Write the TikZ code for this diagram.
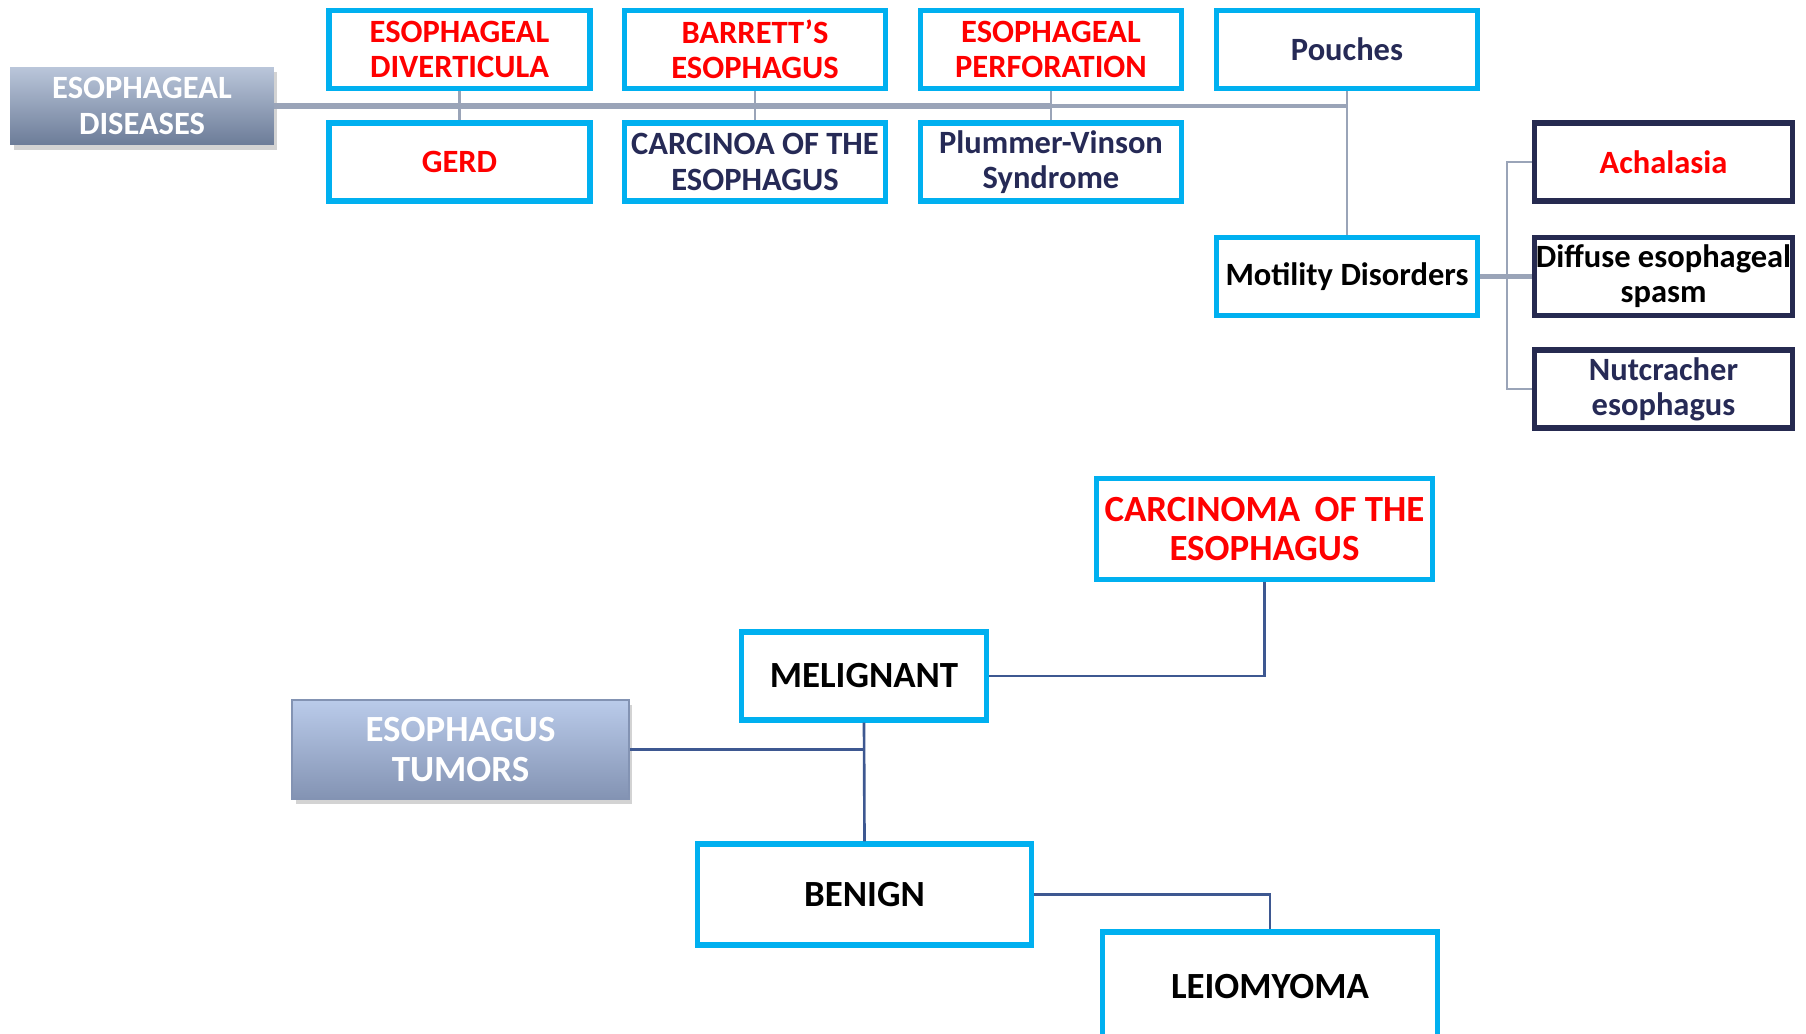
\documentclass[tikz,border=0pt]{standalone}
\usepackage{fontspec}
\setmainfont{Carlito}
\usetikzlibrary{shadows}

\definecolor{boxcyan}{HTML}{00B0F0}
\definecolor{navytext}{HTML}{262A56}
\definecolor{navyline}{HTML}{262A50}
\definecolor{graylink}{HTML}{9AA4B8}
\definecolor{bluelink}{HTML}{3E5891}
\definecolor{headtop}{HTML}{BAC6DA}
\definecolor{headbot}{HTML}{6C7C98}
\definecolor{tumtop}{HTML}{BACBEA}
\definecolor{tumbot}{HTML}{8393B3}

\begin{document}
\begin{tikzpicture}[x=0.02cm, y=-0.02cm,
    smallfont/.style={font=\fontsize{18.5}{20}\selectfont\bfseries},
    bigfont/.style={font=\fontsize{21}{22.5}\selectfont\bfseries},
    topbox/.style={draw=boxcyan, line width=2.9pt, fill=white, align=center, inner sep=0pt,
        minimum width=5.22cm, minimum height=1.56cm, smallfont},
    sidebox/.style={topbox, draw=navyline, minimum width=5.16cm, minimum height=1.56cm},
    tumbox/.style={draw=boxcyan, line width=2.9pt, fill=white, align=center, inner sep=0pt, bigfont},
    headbox/.style={align=center, inner sep=0pt, text=white, top color=headtop, bottom color=headbot,
        drop shadow={shadow xshift=2pt, shadow yshift=-3pt, opacity=0.35}},
    thicklink/.style={draw=graylink, line width=3.2pt},
    thinlink/.style={draw=graylink, line width=1.6pt},
    tumlink/.style={draw=bluelink, line width=1.5pt}
  ]
    %\draw[help lines, step=100] (0, 0) grid (1806, 1034);
    \useasboundingbox (0, 0) rectangle (1806, 1034);

    % esophageal diseases
    \node[headbox, smallfont, minimum width=5.28cm, minimum height=1.56cm] (dis) at (142, 106) {ESOPHAGEAL\\DISEASES};

    \node[topbox, text=red] (divert) at (459.5, 49.5) {ESOPHAGEAL\\DIVERTICULA};
    \node[topbox, text=red] (gerd) at (459.5, 162) {GERD};
    \node[topbox, text=red] (barrett) at (755, 49.5) {BARRETT'S\\ESOPHAGUS};
    \node[topbox, text=navytext] (carcinoa) at (755, 162) {CARCINOA OF THE\\ESOPHAGUS};
    \node[topbox, text=red] (perfor) at (1051, 49.5) {ESOPHAGEAL\\PERFORATION};
    \node[topbox, text=navytext] (plummer) at (1051, 162) {Plummer-Vinson\\Syndrome};
    \node[topbox, text=navytext] (pouch) at (1347, 49.5) {Pouches};
    \node[topbox, text=black] (motil) at (1347, 276.5) {Motility Disorders};

    \node[sidebox, text=red] (achal) at (1663.5, 162) {Achalasia};
    \node[sidebox, text=black] (spasm) at (1663.5, 276.5) {Diffuse esophageal\\spasm};
    \node[sidebox, text=navytext] (nutcr) at (1663.5, 389) {Nutcracher\\esophagus};

    \draw[thinlink] (divert.south) -- (gerd.north);
    \draw[thinlink] (barrett.south) -- (carcinoa.north);
    \draw[thinlink] (perfor.south) -- (plummer.north);
    \draw[thinlink] (pouch.south) -- (motil.north);
    \draw[thicklink] (dis.east) -- (dis.east -| perfor.south);
    \draw[draw=graylink, line width=2.2pt] (dis.east -| perfor.south) -- (dis.east -| pouch.south);
    \draw[draw=graylink, line width=2.6pt] (motil.east) -- (spasm.west);
    \draw[thinlink] (achal.west) -- ++(-25, 0) |- (nutcr.west);

    % esophagus tumors
    \node[headbox, bigfont, draw=tumbot, line width=1pt, top color=tumtop, bottom color=tumbot,
        minimum width=6.74cm, minimum height=1.98cm] (tumors) at (460.5, 749.5) {ESOPHAGUS\\TUMORS};
    \node[tumbox, text=red, minimum width=6.72cm, minimum height=2.02cm] (carc) at (1264.5, 529) {CARCINOMA\, OF THE\\ESOPHAGUS};
    \node[tumbox, minimum width=4.9cm, minimum height=1.76cm] (melig) at (864, 676) {MELIGNANT};
    \node[tumbox, minimum width=6.68cm, minimum height=2.02cm] (benign) at (864.5, 894.5) {BENIGN};
    \node[tumbox, minimum width=6.7cm, minimum height=2.2cm] (leio) at (1270, 987) {LEIOMYOMA};

    \draw[tumlink, line width=2pt] (tumors.east) -- (tumors.east -| melig.south);
    \draw[tumlink] (melig.south) -- (benign.north);
    \draw[tumlink] (melig.east) -| (carc.south);
    \draw[tumlink] (benign.east) -| (leio.north);

  \end{tikzpicture}
\end{document}
